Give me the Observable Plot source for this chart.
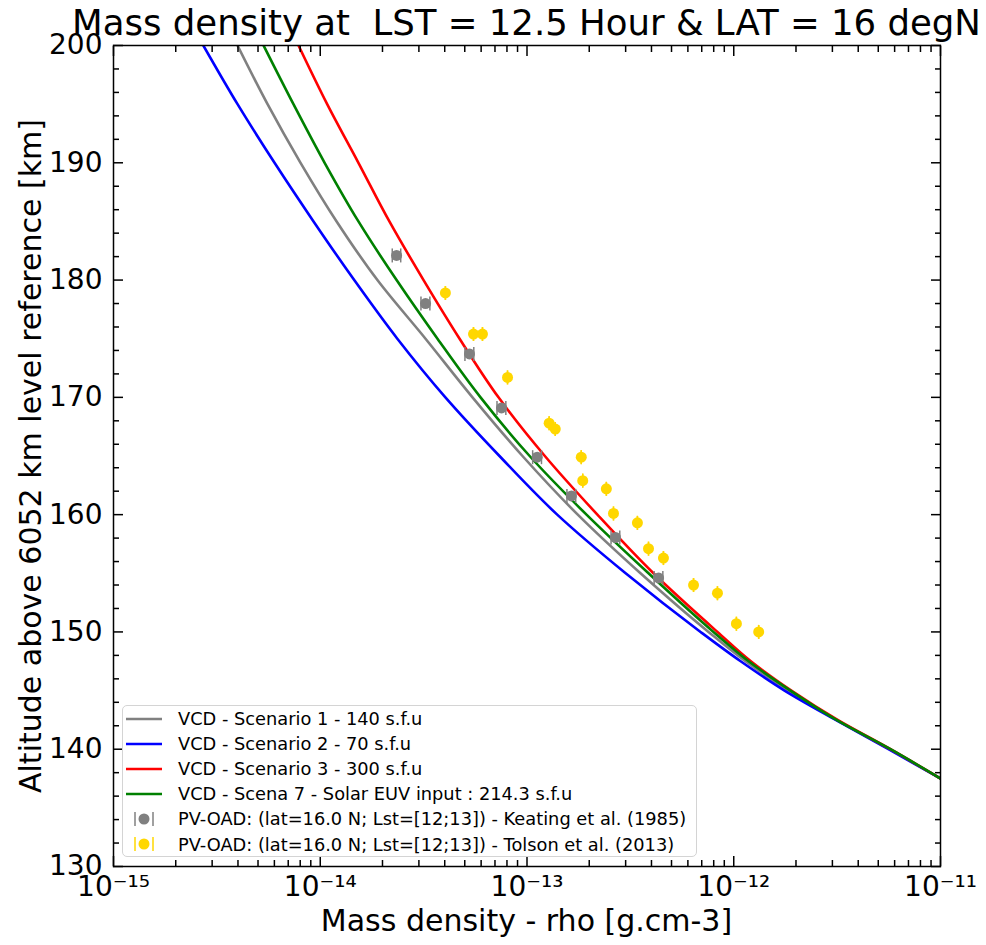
<!DOCTYPE html>
<html>
<head>
<meta charset="utf-8">
<script src="https://cdn.jsdelivr.net/npm/d3@7"></script>
<script src="https://cdn.jsdelivr.net/npm/@observablehq/plot@0.6"></script>
<style>
  body { margin: 0; background: #fff; font-family: "DejaVu Sans", sans-serif; }
  #wrap { position: relative; width: 986px; height: 945px; overflow: hidden; }
  #title { position: absolute; left: 526.5px; top: 5px; transform: translateX(-50%); font-size: 35.5px; line-height: 1; white-space: pre; color: #000; }
  #ylabel { position: absolute; left: 31px; top: 455.5px; transform: translate(-50%, -50%) rotate(-90deg); font-size: 30px; line-height: 1; white-space: pre; }
  #xlabel { position: absolute; left: 526.5px; top: 906px; transform: translateX(-50%); font-size: 30px; line-height: 1; white-space: pre; }
  #legend { position: absolute; left: 122px; top: 705px; width: 575px; height: 152px; border: 1px solid #d4d4d4; border-radius: 5px; background: rgba(255,255,255,0.85); box-sizing: border-box; }
  .row { height: 25.1px; display: flex; align-items: center; font-size: 17.8px; white-space: pre; }
  .row svg { margin-left: 3px; margin-right: 16px; flex: none; }
</style>
</head>
<body>
<div id="wrap">
  <div id="plot"></div>
  <div id="title">Mass density at  LST = 12.5 Hour &amp; LAT = 16 degN</div>
  <div id="ylabel">Altitude above 6052 km level reference [km]</div>
  <div id="xlabel">Mass density - rho [g.cm-3]</div>
  <div id="legend"></div>
</div>
<script>
// ---- model curves (altitude in km, density in g/cm3) ----
const altitudes = [200, 195, 190, 185, 180, 175, 170, 165, 160, 155, 150, 147.5, 145, 142.5, 140, 137.5];
const scenario1 = [3.98e-15, 5.56e-15, 8.03e-15, 1.20e-14, 1.89e-14, 3.23e-14, 5.45e-14, 9.51e-14, 1.76e-13, 3.54e-13, 7.55e-13, 1.14e-12, 1.84e-12, 3.14e-12, 5.67e-12, 1.0e-11];
const scenario2 = [2.72e-15, 3.98e-15, 6.01e-15, 9.28e-15, 1.46e-14, 2.36e-14, 4.03e-14, 7.36e-14, 1.40e-13, 3.00e-13, 6.91e-13, 1.08e-12, 1.76e-12, 3.11e-12, 5.60e-12, 1.0e-11];
const scenario3 = [7.85e-15, 1.08e-14, 1.53e-14, 2.16e-14, 3.16e-14, 4.72e-14, 7.28e-14, 1.22e-13, 2.19e-13, 4.09e-13, 8.34e-13, 1.21e-12, 1.90e-12, 3.18e-12, 5.73e-12, 1.0e-11];
const scenario7 = [5.32e-15, 7.42e-15, 1.05e-14, 1.53e-14, 2.34e-14, 3.69e-14, 5.96e-14, 1.03e-13, 1.94e-13, 3.87e-13, 7.98e-13, 1.18e-12, 1.88e-12, 3.14e-12, 5.73e-12, 1.0e-11];

// ---- observations ----
const keatingRho = [2.34e-14, 3.23e-14, 5.27e-14, 7.53e-14, 1.12e-13, 1.64e-13, 2.68e-13, 4.33e-13];
const keatingAlt = [182.1, 178.0, 173.7, 169.1, 164.9, 161.6, 158.05, 154.6];
const keatingErr = [1.1e-15, 1.6e-15, 2.6e-15, 3.7e-15, 5.5e-15, 8.0e-15, 1.3e-14, 2.1e-14];
const tolsonRho = [4.03e-14, 5.51e-14, 6.09e-14, 8.05e-14, 1.28e-13, 1.37e-13, 1.83e-13, 1.86e-13, 2.42e-13, 2.62e-13, 3.42e-13, 3.87e-13, 4.57e-13, 6.39e-13, 8.34e-13, 1.03e-12, 1.32e-12];
const tolsonAlt = [178.9, 175.4, 175.4, 171.7, 167.8, 167.3, 164.9, 162.9, 162.2, 160.1, 159.3, 157.1, 156.3, 154.0, 153.3, 150.7, 150.0];
const tolsonErr = [0, 0, 0, 0, 0, 0, 0, 0, 0, 0, 0, 0, 0, 0, 0, 0, 0];

// ---- labels / styling ----
const seriesNames = ["VCD - Scenario 1 - 140 s.f.u", "VCD - Scenario 2 - 70 s.f.u", "VCD - Scenario 3 - 300 s.f.u", "VCD - Scena 7 - Solar EUV input : 214.3 s.f.u"];
const seriesColors = ["#808080", "#0000ff", "#ff0000", "#008000"];
const obsNames = ["PV-OAD: (lat=16.0 N; Lst=[12;13]) - Keating et al. (1985)", "PV-OAD: (lat=16.0 N; Lst=[12;13]) - Tolson et al. (2013)"];
const obsColors = ["#808080", "#ffd700"];

const xMajor = [1e-15, 1e-14, 1e-13, 1e-12, 1e-11];
const xMinor = [];
for (let e = -15; e < -11; e++) for (let k = 2; k <= 9; k++) xMinor.push(k * Math.pow(10, e));
const yMajor = [130, 140, 150, 160, 170, 180, 190, 200];
const yMinor = d3.range(130, 201, 2).filter(v => v % 10 !== 0);

const sup = {"-": "\u207B", "0": "\u2070", "1": "\u00B9", "2": "\u00B2", "3": "\u00B3", "4": "\u2074", "5": "\u2075", "6": "\u2076", "7": "\u2077", "8": "\u2078", "9": "\u2079"};
const fmtPow = d => "10" + String(Math.round(Math.log10(d))).split("").map(c => sup[c]).join("");

const curves = [scenario1, scenario2, scenario3, scenario7];
const lineData = curves.flatMap((vals, i) => vals.map((rho, j) => ({series: i, rho, alt: altitudes[j]})));
const keating = keatingRho.map((rho, i) => ({rho, alt: keatingAlt[i], err: keatingErr[i]}));
const tolson = tolsonRho.map((rho, i) => ({rho, alt: tolsonAlt[i], err: tolsonErr[i]}));

const capSymbol = {draw(ctx, size) { const h = Math.sqrt(size / Math.PI); ctx.moveTo(0, -h); ctx.lineTo(0, h); }};

function obsMarks(data, color) {
  return [
    Plot.ruleY(data, {y: "alt", x1: d => d.rho - d.err, x2: d => d.rho + d.err, stroke: color, strokeWidth: 1.5}),
    Plot.dot(data, {x: d => d.rho - d.err, y: "alt", symbol: capSymbol, r: 7, stroke: color, strokeWidth: 1.5, fill: "none"}),
    Plot.dot(data, {x: d => d.rho + d.err, y: "alt", symbol: capSymbol, r: 7, stroke: color, strokeWidth: 1.5, fill: "none"}),
    Plot.dot(data, {x: "rho", y: "alt", r: 5.5, fill: color, stroke: "none"})
  ];
}

const tickStyle = {stroke: "black", strokeWidth: 1.5, label: null};

const chart = Plot.plot({
  width: 986,
  height: 945,
  marginTop: 45,
  marginBottom: 79,
  marginLeft: 113,
  marginRight: 46,
  style: {fontFamily: "DejaVu Sans", background: "white", color: "black"},
  x: {type: "log", domain: [1e-15, 1e-11], axis: null, label: null},
  y: {domain: [130, 200], axis: null, label: null},
  marks: [
    ...curves.map((_, i) => Plot.line(lineData.filter(d => d.series === i), {x: "rho", y: "alt", stroke: seriesColors[i], strokeWidth: 2.6, curve: "monotone-y", clip: true})),
    ...obsMarks(keating, obsColors[0]),
    ...obsMarks(tolson, obsColors[1]),
    Plot.frame({stroke: "black", strokeWidth: 1.5}),
    Plot.axisX(xMajor, {anchor: "bottom", tickSize: -10, tickFormat: () => "", ...tickStyle}),
    Plot.axisX(xMinor, {anchor: "bottom", tickSize: -6, tickFormat: () => "", ...tickStyle}),
    Plot.axisX(xMajor, {anchor: "top", tickSize: -10, tickFormat: () => "", ...tickStyle}),
    Plot.axisX(xMinor, {anchor: "top", tickSize: -6, tickFormat: () => "", ...tickStyle}),
    Plot.axisY(yMajor, {anchor: "left", tickSize: -10, tickFormat: () => "", ...tickStyle}),
    Plot.axisY(yMinor, {anchor: "left", tickSize: -6, tickFormat: () => "", ...tickStyle}),
    Plot.axisY(yMajor, {anchor: "right", tickSize: -10, tickFormat: () => "", ...tickStyle}),
    Plot.axisY(yMinor, {anchor: "right", tickSize: -6, tickFormat: () => "", ...tickStyle}),
    Plot.axisX(xMajor, {anchor: "bottom", tickSize: 0, tickPadding: 10, tickFormat: fmtPow, fontSize: 28, label: null, fill: "black"}),
    Plot.axisY(yMajor, {anchor: "left", tickSize: 0, tickPadding: 11, tickFormat: d => String(d), fontSize: 28, label: null, fill: "black"})
  ]
});
document.getElementById("plot").appendChild(chart);

// ---- legend ----
const legend = document.getElementById("legend");
seriesNames.forEach((name, i) => {
  const row = document.createElement("div");
  row.className = "row";
  row.innerHTML = `<svg width="36" height="20"><line x1="0" x2="36" y1="10" y2="10" stroke="${seriesColors[i]}" stroke-width="2.6"/></svg><span>${name}</span>`;
  legend.appendChild(row);
});
obsNames.forEach((name, i) => {
  const c = obsColors[i];
  const row = document.createElement("div");
  row.className = "row";
  row.innerHTML = `<svg width="36" height="20"><line x1="9" x2="9" y1="3" y2="17" stroke="${c}" stroke-width="1.5"/><line x1="27" x2="27" y1="3" y2="17" stroke="${c}" stroke-width="1.5"/><circle cx="18" cy="10" r="5.5" fill="${c}"/></svg><span>${name}</span>`;
  legend.appendChild(row);
});
</script>
</body>
</html>
